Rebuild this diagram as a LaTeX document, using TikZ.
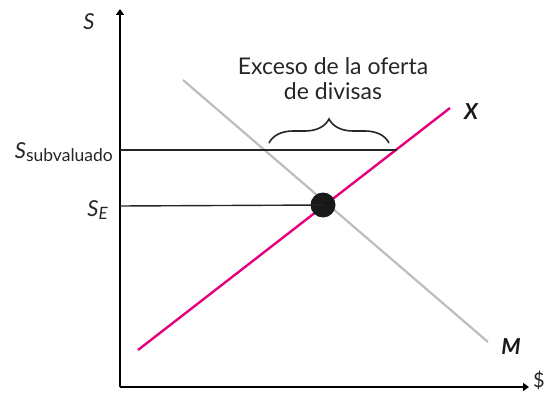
\documentclass[tikz,border=0pt]{standalone}
\usepackage{fontspec}
\setmainfont{Lato}
\usetikzlibrary{arrows.meta,decorations.pathreplacing}
\definecolor{xpink}{HTML}{E6007E}
\definecolor{mgray}{HTML}{BDBDBD}
\tikzset{
  axis/.style={line width=1.6pt, -{Triangle[length=6pt,width=8pt]}},
  hline/.style={line width=1.4pt, black!85},
  lbl/.style={font=\fontsize{22}{26}\selectfont, text=black!85, inner sep=0pt},
  curvelbl/.style={font=\fontsize{22}{26}\selectfont\bfseries\itshape, text=black!90, inner sep=0pt},
}
\begin{document}
\begin{tikzpicture}[x=1pt,y=-1pt]
\useasboundingbox (0,0) rectangle (551,393);
\coordinate (O) at (120,387);
\coordinate (Ytop) at (120,9);
\coordinate (Xend) at (529,387);
\draw[axis] (O) -- (Ytop);
\draw[axis] (O) -- (Xend);
\node[lbl, font=\fontsize{20}{24}\selectfont] (dollar) at (539,380) {\$};
\node[lbl] (S) at (89,22) {\textit{S}};
% curves
\coordinate (M1) at (183,80);
\coordinate (M2) at (488,342);
\draw[mgray, line width=2.2pt] (M1) -- (M2);
\coordinate (X1) at (138,350);
\coordinate (X2) at (450,108);
\draw[xpink, line width=2.4pt] (X1) -- (X2);
\node[curvelbl] (Xl) at (471,112) {X};
\node[curvelbl] (Ml) at (511,347) {M};
% horizontal lines
\coordinate (Ssub) at (120,150);
\coordinate (SsubEnd) at (397,150);
\draw[hline] (Ssub) -- (SsubEnd);
\coordinate (SE) at (120,206);
\node[circle, fill=black!90, minimum size=25pt, inner sep=0pt] (E) at (323,205) {};
\draw[hline] (SE) -- (E.center);
\node[lbl, anchor=base east] (Ssublbl) at (113,158) {\textit{S}\raisebox{-0.35ex}{\fontsize{17.5}{19}\selectfont subvaluado}};
\node[lbl, anchor=base east] (SElbl) at (108,216) {\textit{S}\raisebox{-0.35ex}{\fontsize{17}{19}\selectfont\textit{E}}};
% brace
\coordinate (B1) at (269,143);
\coordinate (B2) at (389,143);
\draw[line width=1.6pt, black!85, decorate, decoration={brace, amplitude=24pt}] (B1) -- (B2);
\node[lbl, align=center, font=\fontsize{23}{25}\selectfont] (exc) at (333,79) {Exceso de la oferta\\de divisas};
\end{tikzpicture}
\end{document}
